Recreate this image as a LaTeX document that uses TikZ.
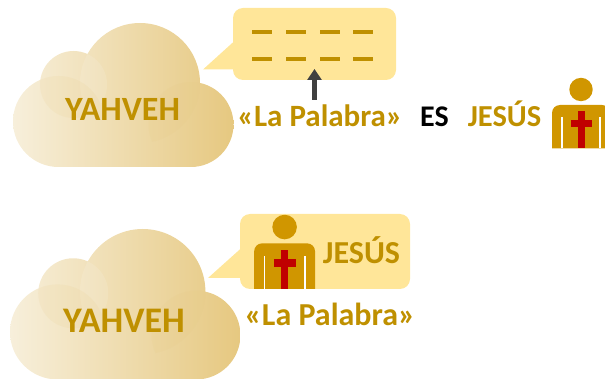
\documentclass[tikz,border=0pt]{standalone}
\usepackage{fontspec}
\setmainfont{Carlito}
\usepackage{xcolor}
\usetikzlibrary{arrows.meta}

\definecolor{bubblefill}{HTML}{FFE699}
\definecolor{wordgold}{HTML}{BF9000}
\definecolor{personbody}{HTML}{D09600}
\definecolor{crossred}{HTML}{C00000}
\definecolor{cloudlight}{HTML}{F7EFDB}
\definecolor{clouddark}{HTML}{E6C880}

\tikzset{
    word/.style={font=\bfseries\fontsize{#1}{#1}\selectfont, text=wordgold, anchor=base, inner sep=0pt},
    dashbar/.style={line width=4.8pt, draw=wordgold},
    bubble/.style={fill=bubblefill, rounded corners=10pt},
    bubbletail/.style={fill=bubblefill},
    lens/.style={fill=#1, fill opacity=0.12},
    yahvehcloud/.pic={
        \shade[left color=cloudlight, right color=clouddark]
            (45.5,98.5) circle (45.5) (60.5,61.5) circle (33.5) (127,60) circle (60) (178,101.5) circle (42.5)
            (45.5,144) -- (45.5,80) -- (178,80) -- (178,144) -- cycle;
        \begin{scope}
            \clip (60.5,61.5) circle (33.5);
            \fill[lens=white] (127,60) circle (60);
            \fill[lens=clouddark] (45.5,98.5) circle (45.5);
        \end{scope}
        \begin{scope}
            \clip (127,60) circle (60);
            \fill[lens=clouddark] (178,101.5) circle (42.5);
        \end{scope}
    },
    saviour/.pic={
        \fill[personbody] (0,-59) circle (11.7);
        \fill[personbody] (-29,0) [rounded corners=8pt] -- (-29,-43.5) -- (29,-43.5) [sharp corners] -- (29,0) -- cycle;
        \fill[white] (-20,0) rectangle (-18.4,-31.5);
        \fill[white] (18.4,0) rectangle (20,-31.5);
        \fill[crossred] (-3.5,0) rectangle (3.5,-37);
        \fill[crossred] (-10.5,-28.5) rectangle (10.5,-21.2);
    }
}

\begin{document}
\begin{tikzpicture}[x=1pt, y=-1pt]
    \clip (0,0) rectangle (605,379);

    % top row
    \pic at (13,23) {yahvehcloud};
    \node[word=34] (yahvehA) at (122.5,120.5) {YAHVEH};

    \fill[bubbletail] (203,69.5) -- (240,36) -- (240,69.5) -- cycle;
    \fill[bubble] (233,8) rectangle (396,80);
    \foreach \y in {32,59} {
        \foreach \x in {252,286,320,353} {
            \draw[dashbar] (\x,\y) -- ++(20,0);
        }
    }

    \node[word=31] (palabraA) at (320,127) {«La Palabra»};
    \node[word=30, text=black] (esword) at (434.5,127) {ES};
    \node[word=30.5] (jesusA) at (504.5,127) {JESÚS};
    \pic at (581,148.5) {saviour};

    \coordinate (arrowfoot) at (314.5,100);
    \coordinate (arrowtip) at (314.5,69);
    \draw[-{Triangle[length=11pt, width=14pt]}, line width=4.5pt, draw=black!75] (arrowfoot) -- (arrowtip);

    % bottom row
    \pic[scale=1.045] at (10,229) {yahvehcloud};
    \node[word=36] (yahvehB) at (124,332.5) {YAHVEH};

    \fill[bubbletail] (208,278) -- (247,243) -- (247,278) -- cycle;
    \fill[bubble] (240,214) rectangle (410,289);
    \pic[scale=1.05] at (284.6,289) {saviour};
    \node[word=32] (jesusB) at (361.5,264) {JESÚS};
    \node[word=32] (palabraB) at (330,326) {«La Palabra»};

\end{tikzpicture}
\end{document}
